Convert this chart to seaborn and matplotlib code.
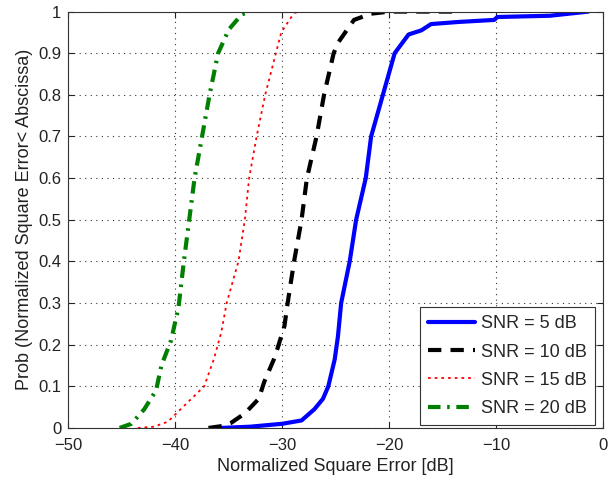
import numpy as np
import pandas as pd
import matplotlib
matplotlib.use("Agg")
import matplotlib.pyplot as plt
import seaborn as sns

# Empirical CDF of the normalized square error for each SNR
snr5_x = [-35.7, -33.0, -30.0, -28.2, -27.0, -26.2, -25.7, -25.1, -24.8, -24.5, -23.7, -23.1,
          -22.2, -21.7, -20.6, -19.5, -18.2, -17.0, -16.1, -13.6, -10.2, -9.9, -5.0, -1.4]
snr5_p = [0.0, 0.003, 0.01, 0.018, 0.045, 0.07, 0.1, 0.165, 0.22, 0.3, 0.4, 0.5,
          0.6, 0.7, 0.8, 0.9, 0.945, 0.955, 0.97, 0.975, 0.98, 0.987, 0.99, 1.0]

snr10_x = [-36.9, -35.5, -34.8, -33.5, -32.2, -31.7, -30.7, -29.8, -29.5, -28.9, -28.2,
           -27.7, -26.8, -26.1, -25.2, -24.8, -23.3, -21.7, -20.0, -13.3]
snr10_p = [0.0, 0.005, 0.012, 0.035, 0.07, 0.11, 0.17, 0.245, 0.3, 0.4, 0.5,
           0.6, 0.7, 0.8, 0.9, 0.925, 0.98, 0.995, 1.0, 1.0]

snr15_x = [-43.5, -42.0, -40.7, -39.7, -38.5, -37.3, -36.4, -35.7, -35.2, -34.1, -33.5,
           -33.1, -32.4, -31.6, -30.6, -30.1, -28.9, -27.8]
snr15_p = [0.0, 0.003, 0.015, 0.04, 0.07, 0.1, 0.165, 0.23, 0.3, 0.4, 0.5,
           0.6, 0.7, 0.8, 0.9, 0.95, 0.997, 1.0]

snr20_x = [-45.2, -44.1, -42.9, -41.8, -41.3, -40.4, -39.7, -39.2, -38.7, -38.2, -37.5,
           -36.8, -36.0, -35.0, -33.8, -33.1]
snr20_p = [0.0, 0.01, 0.045, 0.09, 0.15, 0.21, 0.29, 0.4, 0.5, 0.6, 0.7,
           0.8, 0.9, 0.957, 0.993, 1.0]

labels = ["SNR = 5 dB", "SNR = 10 dB", "SNR = 15 dB", "SNR = 20 dB"]
x_ticks = [-50, -40, -30, -20, -10, 0]
y_ticks = [0, 0.1, 0.2, 0.3, 0.4, 0.5, 0.6, 0.7, 0.8, 0.9, 1]
y_tick_labels = ["0", "0.1", "0.2", "0.3", "0.4", "0.5", "0.6", "0.7", "0.8", "0.9", "1"]

sns.set_style("ticks")
plt.rcParams["font.family"] = ["Liberation Sans", "DejaVu Sans"]

fig = plt.figure(figsize=(6.10, 4.83), dpi=100)
ax = fig.add_axes([0.112, 0.114, 0.877, 0.862])

series = [
    (snr5_x, snr5_p, labels[0], dict(color="#0000ff", linewidth=3.0, linestyle="-")),
    (snr10_x, snr10_p, labels[1], dict(color="black", linewidth=3.0, linestyle=(0, (3.2, 2.2)))),
    (snr15_x, snr15_p, labels[2], dict(color="#ff0000", linewidth=1.3, linestyle=(0, (1.5, 2.2)))),
    (snr20_x, snr20_p, labels[3], dict(color="#007f00", linewidth=3.0, linestyle=(0, (3.0, 1.6, 0.6, 1.6)))),
]

for xs, ps, lab, style in series:
    df = pd.DataFrame({"err": xs, "prob": ps})
    sns.lineplot(data=df, x="err", y="prob", ax=ax, estimator=None, sort=False,
                 label=lab, **style)

ax.set_xlim(-50, 0)
ax.set_ylim(0, 1)
ax.set_xticks(x_ticks)
ax.set_xticklabels([f"\u2212{abs(t)}" if t < 0 else str(t) for t in x_ticks])
ax.set_yticks(y_ticks)
ax.set_yticklabels(y_tick_labels)
ax.tick_params(direction="in", length=4, width=0.8, labelsize=12, colors="#222222",
               top=True, right=True)
ax.tick_params(axis="x", pad=7)
ax.tick_params(axis="y", pad=5)
ax.grid(True, linestyle=(0, (1, 4)), color="#333333", linewidth=0.8)
for sp in ax.spines.values():
    sp.set_visible(True)
    sp.set_color("#333333")
    sp.set_linewidth(0.8)

ax.set_xlabel("Normalized Square Error [dB]", fontsize=13, color="#222222", labelpad=4)
ax.set_ylabel("Prob (Normalized Square Error< Abscissa)", fontsize=13, color="#222222",
              labelpad=4)

leg = ax.legend(loc="lower right", bbox_to_anchor=(0.985, 0.007), fontsize=13,
                frameon=True, fancybox=False, framealpha=1, edgecolor="#333333",
                handlelength=2.6, borderaxespad=0.0, labelspacing=0.62,
                handletextpad=0.35, borderpad=0.45)
leg.get_frame().set_linewidth(0.8)

fig.savefig("out.png", dpi=100)
